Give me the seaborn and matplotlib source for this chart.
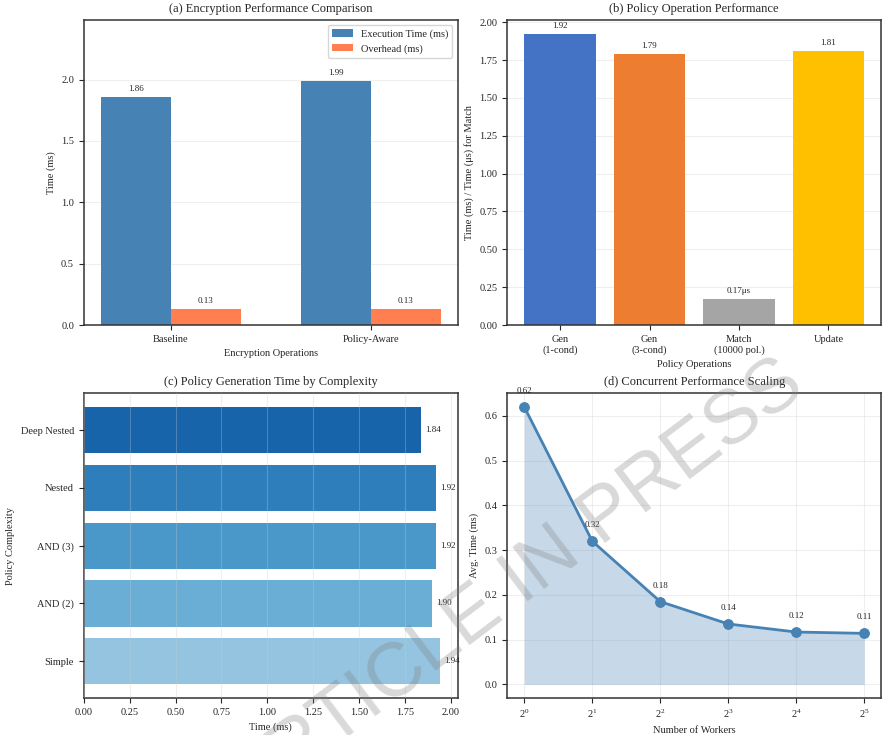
import numpy as np
import pandas as pd
import seaborn as sns
import matplotlib.pyplot as plt

# panel (a)
enc_ops = ["Baseline", "Policy-Aware"]
exec_time = [1.86, 1.99]
overhead = [0.13, 0.13]

# panel (b)
policy_ops = ["Gen\n(1-cond)", "Gen\n(3-cond)", "Match\n(10000 pol.)", "Update"]
policy_times = [1.92, 1.79, 0.17, 1.81]
policy_labels = ["1.92", "1.79", "0.17\u03bcs", "1.81"]
policy_colors = ["#4472C4", "#ED7D31", "#A5A5A5", "#FFC000"]

# panel (c)
complexities = ["Simple", "AND (2)", "AND (3)", "Nested", "Deep Nested"]
gen_times = [1.94, 1.90, 1.92, 1.92, 1.84]

# panel (d)
workers = [1, 2, 4, 8, 16, 32]
avg_times = [0.62, 0.32, 0.185, 0.135, 0.117, 0.114]

sns.set_style("ticks")
plt.rcParams['font.family'] = ['Liberation Serif', 'DejaVu Serif']
plt.rcParams['mathtext.fontset'] = 'stix'
plt.rcParams['axes.edgecolor'] = '#333333'
plt.rcParams['axes.linewidth'] = 1.1
plt.rcParams['xtick.labelsize'] = 7.5
plt.rcParams['ytick.labelsize'] = 7.5
plt.rcParams['axes.labelsize'] = 7.5
plt.rcParams['axes.titlesize'] = 9

fig, axes = plt.subplots(2, 2, figsize=(8.82, 7.35), dpi=100)
fig.subplots_adjust(left=0.095, right=0.999, top=0.973, bottom=0.05, wspace=0.133, hspace=0.223)

# (a) grouped bars
ax = axes[0, 0]
df_a = pd.DataFrame({
    "op": enc_ops * 2,
    "val": exec_time + overhead,
    "metric": ["Execution Time (ms)"] * 2 + ["Overhead (ms)"] * 2,
})
sns.barplot(data=df_a, x="op", y="val", hue="metric", palette=["steelblue", "coral"],
            width=0.7, saturation=1, linewidth=0, ax=ax)
for c in ax.containers:
    ax.bar_label(c, fmt="%.2f", padding=3, fontsize=6.5)
ax.set_xlim(-0.435, 1.435)
ax.set_ylim(0, max(exec_time) * 1.25)
ax.yaxis.grid(True, alpha=0.3)
ax.set_axisbelow(True)
ax.set_title("(a) Encryption Performance Comparison")
ax.set_xlabel("Encryption Operations")
ax.set_ylabel("Time (ms)")
sns.move_legend(ax, "upper right", title=None, frameon=True, fontsize=7.5)

# (b) policy operations
ax = axes[0, 1]
sns.barplot(x=policy_ops, y=policy_times, hue=policy_ops, palette=policy_colors,
            legend=False, saturation=1, width=0.8, linewidth=0, ax=ax)
for c, lab in zip(ax.containers, policy_labels):
    ax.bar_label(c, labels=[lab], padding=3, fontsize=6.5)
ax.set_xlim(-0.59, 3.59)
ax.set_ylim(0, max(policy_times) * 1.05)
ax.yaxis.grid(True, alpha=0.3)
ax.set_axisbelow(True)
ax.set_title("(b) Policy Operation Performance")
ax.set_xlabel("Policy Operations")
ax.set_ylabel("Time (ms) / Time (\u03bcs) for Match")

# (c) horizontal bars
ax = axes[1, 0]
blues = plt.cm.Blues(np.linspace(0.4, 0.8, len(complexities)))
order = complexities[::-1]
sns.barplot(x=gen_times, y=complexities, hue=complexities, order=order,
            palette=list(blues), legend=False, saturation=1, orient="h",
            linewidth=0, ax=ax)
for c in ax.containers:
    ax.bar_label(c, fmt="%.2f", padding=3, fontsize=6.5)
ax.set_ylim(4.64, -0.64)
ax.set_xlim(0, max(gen_times) * 1.05)
ax.xaxis.grid(True, alpha=0.3)
ax.set_axisbelow(False)
ax.set_title("(c) Policy Generation Time by Complexity")
ax.set_xlabel("Time (ms)")
ax.set_ylabel("Policy Complexity")

# (d) scaling
ax = axes[1, 1]
sns.lineplot(x=workers, y=avg_times, marker="o", markersize=7, linewidth=2,
             color="steelblue", markeredgecolor="steelblue", ax=ax)
ax.fill_between(workers, avg_times, alpha=0.3, color="steelblue", linewidth=0)
for x, y in zip(workers, avg_times):
    ax.annotate(f"{y:.2f}", (x, y), textcoords="offset points", xytext=(0, 10),
                ha="center", fontsize=6.5)
ax.set_xscale("log", base=2)
ax.grid(True, alpha=0.3)
ax.set_title("(d) Concurrent Performance Scaling")
ax.set_xlabel("Number of Workers")
ax.set_ylabel("Avg. Time (ms)")

fig.text(0.586, 0.204, "ARTICLE IN PRESS", fontsize=55, family="Liberation Sans",
         color="gray", alpha=0.3, rotation=37, rotation_mode="anchor",
         ha="center", va="center")

fig.savefig("out.png", dpi=100)
